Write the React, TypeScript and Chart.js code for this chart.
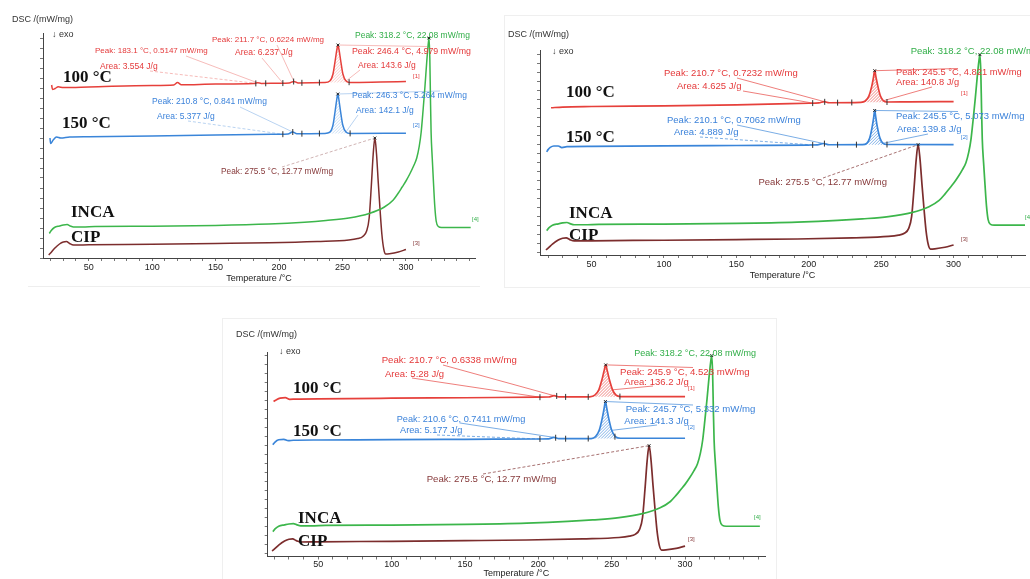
import React, { useEffect, useRef } from "react";
import { Chart, registerables } from "chart.js";

Chart.register(...registerables);

type Pt = [number, number];

/* ================= DATA (temperature in °C, DSC signal in stacked offset units) ================= */
const xTickLabels = [50, 100, 150, 200, 250, 300];
const curveNames = ["100 °C", "150 °C", "INCA", "CIP"];
const curveTags = ["[1]", "[2]", "[4]", "[3]"];
const yAxisLabel = "DSC /(mW/mg)";
const exoLabel = "↓ exo";
const xAxisLabel = "Temperature /°C";

// INCA and CIP raw runs (identical in the three panels)
const incaCurve: Pt[] = [
  [19, 24.5], [20.5, 27.5], [23, 30.5], [27, 32], [30, 33], [33, 33.5], [35.5, 32], [38, 31], [45, 31],
  [55, 31.5], [100, 31.8], [150, 32.6], [192, 34], [220, 35.8], [237, 37.5], [255, 40], [271, 44.5],
  [283, 51], [290, 58], [294, 65], [297, 71], [300, 77], [303, 84], [306, 92], [308.5, 100], [310.5, 112],
  [312, 126], [313.5, 148], [315, 172], [316.3, 195], [317.4, 212], [318.2, 220], [318.8, 200], [319.3, 160],
  [319.8, 126], [320.7, 100], [321.7, 75], [322.7, 52], [323.8, 37], [325.5, 31.5], [328, 30.5], [340, 30.5],
  [351, 30.5],
];
const cipCurve: Pt[] = [
  [18.5, 3], [20, 5], [23, 9.5], [27, 14], [30, 16], [32.5, 16.5], [35, 14.5], [38, 13], [50, 13.2],
  [100, 13.8], [150, 14.5], [192, 15.2], [230, 16.5], [255, 18], [262, 19.5], [266, 21.5], [269, 27],
  [271, 40], [272.7, 72], [274.2, 104], [275.5, 120], [276.8, 104], [278.2, 75], [279.6, 48], [281, 24],
  [282.5, 9], [284, 4], [287, 4.3], [294, 6], [300, 8.5],
];
const incaPeak: Pt = [318.2, 220];
const cipPeak: Pt = [275.5, 120];

// ---- Panel 1 ----
const p1Curve100: Pt[] = [
  [20.8, 173], [21.5, 168.5], [23.5, 169.5], [26, 171.2], [30, 170.5], [50, 171], [100, 172.5], [117, 173],
  [120, 175.5], [123, 173.2], [150, 174], [180, 174.5], [183.1, 175.2], [186, 174.6], [200, 174.8], [208, 175],
  [211.7, 176.6], [215, 175.1], [236, 175.4], [240, 177], [242.5, 184], [244.3, 198], [245.5, 208],
  [246.4, 213], [247.3, 208], [248.5, 198], [250.3, 184], [252.8, 177], [256, 175.6], [280, 176], [300, 176.4],
];
const p1Curve150: Pt[] = [
  [19.5, 120], [20, 114.5], [22, 118], [24.7, 121], [28, 120], [35, 121], [50, 121.3], [100, 122], [150, 123],
  [200, 123.7], [207, 124], [210.8, 126], [214, 124.2], [236, 124.5], [240, 125.8], [242.5, 133], [244.3, 148],
  [245.4, 158], [246.3, 164], [247.2, 158], [248.3, 148], [250.2, 133], [252.7, 126], [256, 124.6], [300, 124.8],
];
const p1Peaks: Pt[] = [[246.4, 213], [246.3, 164]];
const p1Marks100: Pt[] = [[181.7, 174.6], [189.5, 174.7], [203, 174.9], [211.5, 176.5], [218, 175.2], [231.8, 175.4], [255.2, 175.8]];
const p1Marks150: Pt[] = [[203, 123.8], [210.8, 126], [218, 124.3], [231.8, 124.5], [256, 124.6]];
const p1Area100: Pt = [236, 256];
const p1Area150: Pt = [236, 256];
const p1NoteText = [
  "Peak: 183.1 °C, 0.5147 mW/mg", "Area: 3.554 J/g", "Peak: 211.7 °C, 0.6224 mW/mg", "Area: 6.237 J/g",
  "Peak: 246.4 °C, 4.979 mW/mg", "Area: 143.6 J/g", "Peak: 210.8 °C, 0.841 mW/mg", "Area: 5.377 J/g",
  "Peak: 246.3 °C, 5.264 mW/mg", "Area: 142.1 J/g", "Peak: 275.5 °C, 12.77 mW/mg", "Peak: 318.2 °C, 22.08 mW/mg",
];
const p1NoteSeries = ["c100", "c100", "c100", "c100", "c100", "c100", "c150", "c150", "c150", "c150", "cip", "inca"];
const p1NoteTarget: Pt[] = [
  [183.1, 175.2], [181.7, 174.6], [211.7, 176.6], [203, 174.9], [246.4, 213], [252.8, 177],
  [210.8, 126], [203, 123.8], [246.3, 164], [252.7, 126], [275.5, 120], [318.2, 220],
];

// ---- Panel 2 ----
const p2Curve100: Pt[] = [
  [22, 161], [30, 161.8], [50, 162.4], [100, 163.2], [150, 164.3], [200, 166], [207, 166.4], [210.7, 167.8],
  [214, 166.6], [236, 167], [239, 168.5], [241.5, 174], [243.5, 185], [244.7, 195], [245.5, 202.2],
  [246.4, 195], [247.7, 185], [249.5, 174], [251.5, 168.8], [254, 167.4], [270, 167.6], [300, 167.8],
];
const p2Curve150: Pt[] = [
  [19, 112], [20, 114.5], [21.5, 117], [24, 118.5], [27, 118.5], [29.5, 116.8], [33, 117.8], [50, 118.2],
  [100, 118.6], [150, 119.1], [200, 119.6], [206, 119.8], [210.1, 121.3], [214, 119.9], [237, 120],
  [240, 121.5], [242, 127], [243.8, 140], [244.8, 150], [245.5, 158], [246.3, 150], [247.3, 140],
  [249.2, 127], [251.3, 121.5], [254, 120.2], [300, 120],
];
const p2Peaks: Pt[] = [[245.5, 202.2], [245.5, 158]];
const p2Marks100: Pt[] = [[202.7, 166.2], [211, 167.6], [219.9, 166.7], [229.7, 166.9], [254, 167.4]];
const p2Marks150: Pt[] = [[202.7, 119.7], [210.8, 121.2], [219.9, 119.9], [232.9, 120], [254, 120.2]];
const p2Area100: Pt = [236, 254];
const p2Area150: Pt = [237, 254];
const p2NoteText = [
  "Peak: 210.7 °C, 0.7232 mW/mg", "Area: 4.625 J/g", "Peak: 245.5 °C, 4.821 mW/mg", "Area: 140.8 J/g",
  "Peak: 210.1 °C, 0.7062 mW/mg", "Area: 4.889 J/g", "Peak: 245.5 °C, 5.073 mW/mg", "Area: 139.8 J/g",
  "Peak: 318.2 °C, 22.08 mW/mg", "Peak: 275.5 °C, 12.77 mW/mg",
];
const p2NoteSeries = ["c100", "c100", "c100", "c100", "c150", "c150", "c150", "c150", "inca", "cip"];
const p2NoteTarget: Pt[] = [
  [210.7, 167.8], [202.7, 166.2], [245.5, 202.2], [251.5, 168.8], [210.1, 121.3], [202.7, 119.7],
  [245.5, 158], [251.3, 121.5], [318.2, 220], [275.5, 120],
];

// ---- Panel 3 ----
const p3Curve100: Pt[] = [
  [19.5, 169], [21, 170.5], [24, 172.8], [27.5, 173.3], [30.5, 171.5], [34, 171.6], [50, 172], [100, 172.7],
  [150, 173.2], [200, 173.8], [207, 174], [210.7, 175.5], [214, 174.1], [235, 174.2], [238.5, 176],
  [241.2, 182], [243.3, 193], [244.8, 203], [245.9, 209.7], [247, 203], [248.5, 193], [250.6, 182],
  [253, 176], [256, 174.5], [300, 174.4],
];
const p3Curve150: Pt[] = [
  [19, 121], [20.5, 124], [23, 126.5], [26.5, 127], [29.5, 125.5], [33, 126], [50, 126.3], [100, 126.6],
  [150, 127], [200, 127.4], [207, 127.6], [210.6, 129.2], [214, 127.7], [236, 127.9], [239, 130],
  [241.5, 137], [243.5, 150], [244.8, 161], [245.7, 169], [246.7, 161], [248, 150], [250, 137],
  [252.5, 130], [256, 128.2], [300, 128.2],
];
const p3Peaks: Pt[] = [[245.9, 209.7], [245.7, 169]];
const p3Marks100: Pt[] = [[201.1, 173.8], [212.5, 175.2], [218.6, 174.1], [234, 174.2], [255.6, 174.5]];
const p3Marks150: Pt[] = [[201.1, 127.4], [211.8, 128.8], [218.6, 127.7], [234, 127.9], [252.2, 130]];
const p3Area100: Pt = [235, 256];
const p3Area150: Pt = [236, 256];
const p3NoteText = [
  "Peak: 210.7 °C, 0.6338 mW/mg", "Area: 5.28 J/g", "Peak: 245.9 °C, 4.523 mW/mg", "Area: 136.2 J/g",
  "Peak: 210.6 °C, 0.7411 mW/mg", "Area: 5.177 J/g", "Peak: 245.7 °C, 5.332 mW/mg", "Area: 141.3 J/g",
  "Peak: 318.2 °C, 22.08 mW/mg", "Peak: 275.5 °C, 12.77 mW/mg",
];
const p3NoteSeries = ["c100", "c100", "c100", "c100", "c150", "c150", "c150", "c150", "inca", "cip"];
const p3NoteTarget: Pt[] = [
  [210.7, 175.5], [201.1, 173.8], [245.9, 209.7], [250.6, 182], [210.6, 129.2], [201.1, 127.4],
  [245.7, 169], [250, 137], [318.2, 220], [275.5, 120],
];

/* ================= LAYOUT & STYLE ================= */
type NoteLayout = { x: number; y: number; size: number; from: Pt; dash?: boolean };

const p1NoteLayout: NoteLayout[] = [
  { x: 95, y: 51, size: 8, from: [186, 56] },
  { x: 100, y: 67, size: 8.5, from: [150, 71], dash: true },
  { x: 212, y: 40, size: 8, from: [277, 45] },
  { x: 235, y: 53, size: 8.5, from: [262, 58] },
  { x: 352, y: 52, size: 8.8, from: [427, 46.5] },
  { x: 358, y: 66, size: 8.5, from: [360, 70] },
  { x: 152, y: 102, size: 8.5, from: [240, 107] },
  { x: 157, y: 117, size: 8.5, from: [188, 121], dash: true },
  { x: 352, y: 96, size: 8.5, from: [440, 91] },
  { x: 356, y: 111, size: 8.5, from: [358, 115] },
  { x: 221, y: 172, size: 8.3, from: [282, 167], dash: true },
  { x: 355, y: 36, size: 8.5, from: [427, 39] },
];
const p2NoteLayout: NoteLayout[] = [
  { x: 664, y: 73.3, size: 9.5, from: [737, 78] },
  { x: 677, y: 86.7, size: 9.5, from: [743, 91] },
  { x: 896, y: 72.7, size: 9.3, from: [958, 68.5] },
  { x: 896, y: 82.7, size: 9.3, from: [932, 87] },
  { x: 667, y: 120.7, size: 9.5, from: [737, 125] },
  { x: 674, y: 132.7, size: 9.5, from: [700, 137], dash: true },
  { x: 896, y: 116, size: 9.5, from: [958, 111.5] },
  { x: 897, y: 129.3, size: 9.5, from: [928, 134] },
  { x: 910.7, y: 51.7, size: 9.5, from: [978, 55] },
  { x: 758.5, y: 182.3, size: 9.5, from: [823, 178], dash: true },
];
const p3NoteLayout: NoteLayout[] = [
  { x: 381.7, y: 360.7, size: 9.6, from: [443, 365] },
  { x: 385, y: 374, size: 9.5, from: [412, 378] },
  { x: 620, y: 372.7, size: 9.6, from: [693, 367.5] },
  { x: 624.3, y: 382.7, size: 9.5, from: [653, 386] },
  { x: 396.7, y: 419.3, size: 9.2, from: [460, 423] },
  { x: 400, y: 430.7, size: 9.2, from: [437, 435], dash: true },
  { x: 625.7, y: 409.3, size: 9.6, from: [693, 405] },
  { x: 624.3, y: 421.7, size: 9.5, from: [657, 425] },
  { x: 634.3, y: 353.3, size: 9, from: [708, 356] },
  { x: 426.7, y: 479.3, size: 9.6, from: [483, 474], dash: true },
];

const SANS = '"Liberation Sans", Arial, Helvetica, sans-serif';
const SERIF = '"Liberation Serif", "Times New Roman", Times, serif';

const SERIES: Record<string, { line: string; text: string; rgb: string }> = {
  c100: { line: "#e6403b", text: "#e4393a", rgb: "230,64,59" },
  c150: { line: "#3a85d9", text: "#3b82da", rgb: "58,133,217" },
  inca: { line: "#3cb64b", text: "#31ae48", rgb: "60,182,75" },
  cip: { line: "#7c2d2d", text: "#86393a", rgb: "124,45,45" },
};
const seriesOrder = ["c100", "c150", "inca", "cip"];

type PanelCfg = {
  id: number; left: number; top: number; w: number; h: number;
  area: { l: number; t: number; r: number; b: number };
  xRange: Pt; yRange: Pt; tickPad: number; titlePad: number;
  dsc: Pt; exo: Pt; leadAlpha: number; hatchAlpha: number; lineW: number;
  c100: Pt[]; c150: Pt[]; peaks: Pt[]; marks100: Pt[]; marks150: Pt[]; area100: Pt; area150: Pt;
  noteText: string[]; noteSeries: string[]; noteTarget: Pt[]; noteLayout: NoteLayout[];
  names: Pt[]; tags: Pt[];
};

const PANELS: PanelCfg[] = [
  {
    id: 1, left: 0, top: 0, w: 480, h: 290, area: { l: 43, t: 33, r: 480, b: 258 },
    xRange: [14, 354.4], yRange: [0, 225], tickPad: 1, titlePad: 6.4,
    dsc: [12, 20], exo: [52, 35], leadAlpha: 0.45, hatchAlpha: 0.4, lineW: 1.5,
    c100: p1Curve100, c150: p1Curve150, peaks: p1Peaks, marks100: p1Marks100, marks150: p1Marks150,
    area100: p1Area100, area150: p1Area150,
    noteText: p1NoteText, noteSeries: p1NoteSeries, noteTarget: p1NoteTarget, noteLayout: p1NoteLayout,
    names: [[63, 78], [62, 124], [71, 213], [71, 238]],
    tags: [[413, 76], [413, 125], [472, 219], [413, 243]],
  },
  {
    id: 2, left: 490, top: 0, w: 540, h: 290, area: { l: 50, t: 50, r: 539, b: 255 },
    xRange: [14.4, 349.3], yRange: [-2.6, 225.2], tickPad: 1, titlePad: 9.4,
    dsc: [508, 35], exo: [552, 51.7], leadAlpha: 0.85, hatchAlpha: 0.9, lineW: 1.7,
    c100: p2Curve100, c150: p2Curve150, peaks: p2Peaks, marks100: p2Marks100, marks150: p2Marks150,
    area100: p2Area100, area150: p2Area150,
    noteText: p2NoteText, noteSeries: p2NoteSeries, noteTarget: p2NoteTarget, noteLayout: p2NoteLayout,
    names: [[566, 92.7], [566, 137.7], [569, 213.3], [569, 236]],
    tags: [[961, 93], [961, 137], [1025, 217], [961, 239]],
  },
  {
    id: 3, left: 220, top: 318, w: 560, h: 261, area: { l: 47.7, t: 34, r: 545, b: 238.5 },
    xRange: [15.5, 354.5], yRange: [-3.1, 224], tickPad: -0.5, titlePad: 0,
    dsc: [236, 335], exo: [279, 351.7], leadAlpha: 0.85, hatchAlpha: 0.9, lineW: 1.7,
    c100: p3Curve100, c150: p3Curve150, peaks: p3Peaks, marks100: p3Marks100, marks150: p3Marks150,
    area100: p3Area100, area150: p3Area150,
    noteText: p3NoteText, noteSeries: p3NoteSeries, noteTarget: p3NoteTarget, noteLayout: p3NoteLayout,
    names: [[293, 388.3], [293, 431.7], [298, 518.3], [298, 541.7]],
    tags: [[688, 388], [688, 427], [754, 517], [688, 539]],
  },
];

function overlayPlugin(p: PanelCfg) {
  const lx = (x: number) => x - p.left;
  const ly = (y: number) => y - p.top;
  const hatch = (ctx: CanvasRenderingContext2D, sx: any, sy: any, pts: Pt[], range: Pt, key: string) => {
    const seg = pts.filter(([x]) => x >= range[0] && x <= range[1]);
    if (seg.length < 2) return;
    const base = seg[0][1];
    const px = seg.map(([x, y]) => [sx.getPixelForValue(x), sy.getPixelForValue(y)]);
    const yb = sy.getPixelForValue(base);
    const x0 = px[0][0];
    const x1 = px[px.length - 1][0];
    let top = yb;
    px.forEach(([, y]) => (top = Math.min(top, y)));
    ctx.save();
    ctx.beginPath();
    px.forEach(([x, y], i) => (i ? ctx.lineTo(x, y) : ctx.moveTo(x, y)));
    ctx.lineTo(x1, yb);
    ctx.lineTo(x0, yb);
    ctx.closePath();
    ctx.clip();
    ctx.strokeStyle = `rgba(${SERIES[key].rgb},${p.hatchAlpha})`;
    ctx.lineWidth = 0.7;
    ctx.beginPath();
    const hgt = yb - top + 2;
    for (let d = x0 - hgt; d < x1 + 2; d += 3) {
      ctx.moveTo(d, yb + 1);
      ctx.lineTo(d + hgt, yb + 1 - hgt);
    }
    ctx.stroke();
    ctx.restore();
  };
  return {
    id: "dscOverlay" + p.id,
    beforeDatasetsDraw(chart: any) {
      const { ctx, scales } = chart;
      hatch(ctx, scales.x, scales.y, p.c100, p.area100, "c100");
      hatch(ctx, scales.x, scales.y, p.c150, p.area150, "c150");
      ctx.save();
      p.noteLayout.forEach((lay, i) => {
        const s = SERIES[p.noteSeries[i]];
        const t = p.noteTarget[i];
        ctx.strokeStyle = `rgba(${s.rgb},${p.leadAlpha})`;
        ctx.lineWidth = 0.8;
        ctx.setLineDash(lay.dash ? [3, 2] : []);
        ctx.beginPath();
        ctx.moveTo(lx(lay.from[0]), ly(lay.from[1]));
        ctx.lineTo(scales.x.getPixelForValue(t[0]), scales.y.getPixelForValue(t[1]));
        ctx.stroke();
      });
      ctx.restore();
    },
    afterDatasetsDraw(chart: any) {
      const { ctx } = chart;
      ctx.save();
      ctx.textAlign = "left";
      ctx.textBaseline = "middle";
      p.noteLayout.forEach((lay, i) => {
        ctx.font = `${lay.size}px ${SANS}`;
        ctx.fillStyle = SERIES[p.noteSeries[i]].text;
        ctx.fillText(p.noteText[i], lx(lay.x), ly(lay.y));
      });
      ctx.font = `9px ${SANS}`;
      ctx.fillStyle = "#333";
      ctx.fillText(yAxisLabel, lx(p.dsc[0]), ly(p.dsc[1]));
      ctx.fillText(exoLabel, lx(p.exo[0]), ly(p.exo[1]));
      ctx.font = `bold 17px ${SERIF}`;
      ctx.fillStyle = "#111";
      curveNames.forEach((n, i) => ctx.fillText(n, lx(p.names[i][0]), ly(p.names[i][1])));
      ctx.font = `6px ${SANS}`;
      curveTags.forEach((t, i) => {
        ctx.fillStyle = SERIES[seriesOrder[i]].text;
        ctx.fillText(t, lx(p.tags[i][0]), ly(p.tags[i][1]));
      });
      ctx.restore();
    },
  };
}

function Panel({ p }: { p: PanelCfg }) {
  const ref = useRef<HTMLCanvasElement>(null);
  useEffect(() => {
    const canvas = ref.current!;
    const toXY = (pts: Pt[]) => pts.map(([x, y]) => ({ x, y }));
    const curve = (pts: Pt[], key: string) => ({
      type: "line" as const,
      data: toXY(pts),
      borderColor: SERIES[key].line,
      borderWidth: p.lineW,
      pointRadius: 0,
      fill: false,
      cubicInterpolationMode: "monotone" as const,
    });
    const marks = (pts: Pt[]) => ({
      type: "line" as const,
      data: toXY(pts),
      showLine: false,
      pointStyle: "line" as const,
      rotation: 90,
      pointRadius: 3,
      pointBorderWidth: 1,
      pointBorderColor: "#333",
      borderColor: "#333",
    });
    const peakDots = {
      type: "line" as const,
      data: toXY([...p.peaks, incaPeak, cipPeak]),
      showLine: false,
      pointStyle: "crossRot" as const,
      pointRadius: 2,
      pointBorderWidth: 1,
      pointBorderColor: "#222",
      borderColor: "#222",
    };
    const datasets: any[] = [
      marks(p.marks100),
      marks(p.marks150),
      peakDots,
      curve(p.c100, "c100"),
      curve(p.c150, "c150"),
      curve(incaCurve, "inca"),
      curve(cipCurve, "cip"),
    ];
    const a = p.area;
    const chart = new Chart(canvas, {
      type: "line",
      data: { datasets },
      options: {
        responsive: false,
        animation: false,
        devicePixelRatio: 1,
        events: [],
        layout: { padding: { left: 0, top: a.t, right: p.w - a.r, bottom: 0 } },
        plugins: { legend: { display: false }, tooltip: { enabled: false }, title: { display: false } },
        scales: {
          x: {
            type: "linear",
            position: "bottom",
            min: p.xRange[0],
            max: p.xRange[1],
            afterFit: (s: any) => {
              s.height = p.h - a.b;
            },
            grid: { display: true, drawOnChartArea: false, drawTicks: true, tickLength: 3, color: "#777" },
            border: { display: true, color: "#444", width: 1 },
            ticks: {
              stepSize: 10,
              includeBounds: false,
              autoSkip: false,
              maxRotation: 0,
              minRotation: 0,
              padding: p.tickPad,
              color: "#222",
              font: { size: 9, family: SANS },
              callback: (v: any) => (xTickLabels.includes(Number(v)) ? String(v) : ""),
            },
            title: {
              display: true,
              text: xAxisLabel,
              color: "#222",
              font: { size: 9, family: SANS },
              padding: { top: 0, bottom: p.titlePad },
            },
          },
          y: {
            type: "linear",
            position: "left",
            min: p.yRange[0],
            max: p.yRange[1],
            afterFit: (s: any) => {
              s.width = a.l;
            },
            grid: { display: true, drawOnChartArea: false, drawTicks: true, tickLength: 3, color: "#777" },
            border: { display: true, color: "#444", width: 1 },
            ticks: { display: false, stepSize: 10, includeBounds: false },
          },
        },
      } as any,
      plugins: [overlayPlugin(p)],
    });
    return () => chart.destroy();
  }, [p]);
  return (
    <canvas
      ref={ref}
      width={p.w}
      height={p.h}
      style={{ position: "absolute", left: p.left, top: p.top, width: p.w, height: p.h }}
    />
  );
}

export default function App() {
  return (
    <div
      style={{
        position: "fixed",
        left: 0,
        top: 0,
        width: 1030,
        height: 579,
        background: "#fff",
        overflow: "hidden",
      }}
    >
      <div style={{ position: "absolute", left: 28, top: 286, width: 452, height: 1, background: "#eeeeee" }} />
      <div style={{ position: "absolute", left: 504, top: 15, width: 540, height: 271, border: "1px solid #efefef" }} />
      <div style={{ position: "absolute", left: 222, top: 318, width: 553, height: 270, border: "1px solid #efefef" }} />
      {PANELS.map((p) => (
        <Panel key={p.id} p={p} />
      ))}
    </div>
  );
}
